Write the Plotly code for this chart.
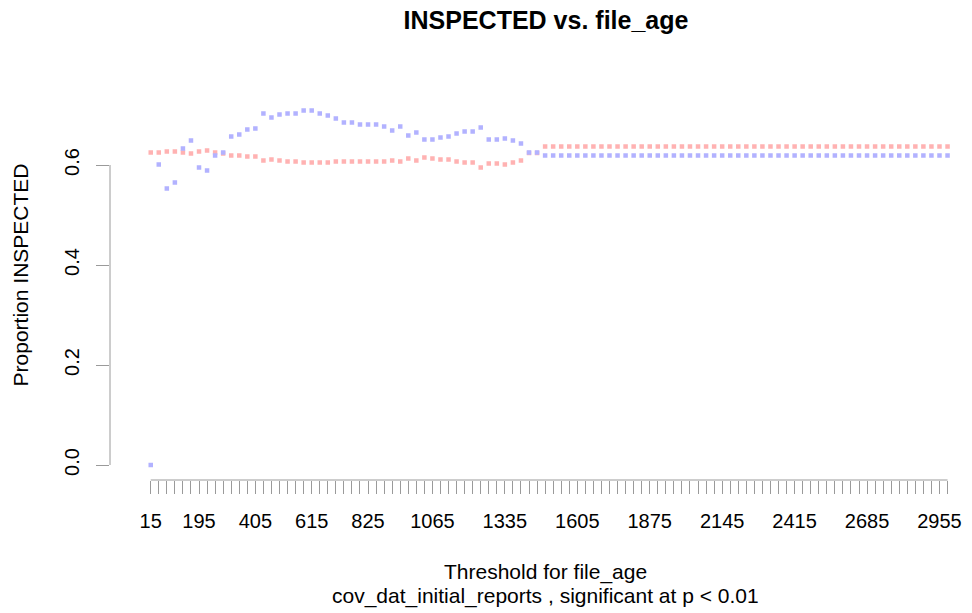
import plotly.graph_objects as go

# thresholds tried for file_age (x categories)
thresholds = [
    15, 45, 75, 105, 135, 165, 195, 225, 255, 285,
    315, 345, 375, 405, 435, 465, 495, 525, 555, 585,
    615, 645, 675, 705, 735, 765, 795, 825, 855, 885,
    915, 945, 975, 1005, 1035, 1065, 1095, 1125, 1155, 1185,
    1215, 1245, 1275, 1305, 1335, 1365, 1395, 1425, 1455, 1485,
    1515, 1545, 1575, 1605, 1635, 1665, 1695, 1725, 1755, 1785,
    1815, 1845, 1875, 1905, 1935, 1965, 1995, 2025, 2055, 2085,
    2115, 2145, 2175, 2205, 2235, 2265, 2295, 2325, 2355, 2385,
    2415, 2445, 2475, 2505, 2535, 2565, 2595, 2625, 2655, 2685,
    2715, 2745, 2775, 2805, 2835, 2865, 2895, 2925, 2955, 2985,
]
shown_labels = [15, 195, 405, 615, 825, 1065, 1335, 1605, 1875, 2145, 2415, 2685, 2955]

# proportion INSPECTED, above threshold (red) / below threshold (blue)
prop_red = [
    0.625, 0.625, 0.627, 0.627, 0.625, 0.623, 0.627, 0.629, 0.625, 0.623,
    0.619, 0.619, 0.617, 0.617, 0.609, 0.611, 0.609, 0.607, 0.607, 0.605,
    0.605, 0.605, 0.605, 0.607, 0.607, 0.607, 0.607, 0.607, 0.607, 0.607,
    0.609, 0.607, 0.613, 0.609, 0.615, 0.613, 0.611, 0.611, 0.607, 0.605,
    0.605, 0.595, 0.603, 0.603, 0.601, 0.605, 0.609, 0.624, 0.624, 0.637,
    0.637, 0.637, 0.637, 0.637, 0.637, 0.637, 0.637, 0.637, 0.637, 0.637,
    0.637, 0.637, 0.637, 0.637, 0.637, 0.637, 0.637, 0.637, 0.637, 0.637,
    0.637, 0.637, 0.637, 0.637, 0.637, 0.637, 0.637, 0.637, 0.637, 0.637,
    0.637, 0.637, 0.637, 0.637, 0.637, 0.637, 0.637, 0.637, 0.637, 0.637,
    0.637, 0.637, 0.637, 0.637, 0.637, 0.637, 0.637, 0.637, 0.637, 0.637,
]
prop_blue = [
    0.000, 0.601, 0.553, 0.565, 0.633, 0.649, 0.595, 0.589, 0.619, 0.625,
    0.657, 0.661, 0.671, 0.673, 0.703, 0.695, 0.701, 0.703, 0.703, 0.709,
    0.709, 0.703, 0.699, 0.693, 0.685, 0.685, 0.681, 0.681, 0.681, 0.677,
    0.669, 0.677, 0.659, 0.665, 0.651, 0.651, 0.655, 0.657, 0.663, 0.667,
    0.667, 0.675, 0.651, 0.651, 0.653, 0.649, 0.643, 0.625, 0.625, 0.619,
    0.619, 0.619, 0.619, 0.619, 0.619, 0.619, 0.619, 0.619, 0.619, 0.619,
    0.619, 0.619, 0.619, 0.619, 0.619, 0.619, 0.619, 0.619, 0.619, 0.619,
    0.619, 0.619, 0.619, 0.619, 0.619, 0.619, 0.619, 0.619, 0.619, 0.619,
    0.619, 0.619, 0.619, 0.619, 0.619, 0.619, 0.619, 0.619, 0.619, 0.619,
    0.619, 0.619, 0.619, 0.619, 0.619, 0.619, 0.619, 0.619, 0.619, 0.619,
]
y_ticks = [0.0, 0.2, 0.4, 0.6]

RED = "#FFB2B2"
BLUE = "#B2B2FF"
AXIS = "#9A9A9A"
FONT = "Liberation Sans, Arial, sans-serif"

fig = go.Figure()
fig.add_trace(go.Scatter(x=thresholds, y=prop_red, mode="markers",
                         marker={"symbol": "square", "size": 4.5, "color": RED, "line": {"width": 0}}))
fig.add_trace(go.Scatter(x=thresholds, y=prop_blue, mode="markers",
                         marker={"symbol": "square", "size": 4.5, "color": BLUE, "line": {"width": 0}}))

# R-style axis lines spanning only the tick range
fig.add_shape(type="line", xref="x", yref="paper", x0=thresholds[0], x1=thresholds[-1], y0=0, y1=0,
              line={"color": AXIS, "width": 1})
fig.add_shape(type="line", xref="paper", yref="y", x0=0, x1=0, y0=y_ticks[0], y1=y_ticks[-1],
              line={"color": AXIS, "width": 1})

step = thresholds[1] - thresholds[0]
fig.update_layout(
    width=972, height=613,
    margin={"l": 110, "r": 10, "t": 90, "b": 133},
    plot_bgcolor="white", paper_bgcolor="white",
    showlegend=False,
    font={"family": FONT, "size": 20, "color": "black"},
    title={"text": "<b>INSPECTED vs. file_age</b>", "font": {"size": 25},
           "xref": "container", "yref": "container", "x": 546 / 972, "xanchor": "center",
           "y": 1 - 20 / 613, "yanchor": "middle"},
    xaxis={
        "range": [thresholds[0] - 5.06 * step, thresholds[0] + 100.3 * step],
        "showgrid": False, "zeroline": False, "showline": False,
        "tickmode": "array", "tickvals": thresholds,
        "ticktext": [str(t) if t in shown_labels else "" for t in thresholds],
        "ticks": "outside", "ticklen": 13, "tickcolor": AXIS, "tickwidth": 1,
        "ticklabelstandoff": 10,
    },
    yaxis={
        "range": [-0.03, 0.75],
        "showgrid": False, "zeroline": False, "showline": False,
        "tickmode": "array", "tickvals": y_ticks, "ticktext": [f"{v:.1f}" for v in y_ticks],
        "ticks": "outside", "ticklen": 13, "tickcolor": AXIS, "tickwidth": 1,
        "tickangle": -90, "ticklabelstandoff": 9,
    },
    annotations=[
        {"text": "Threshold for file_age", "xref": "paper", "yref": "paper",
         "x": 0.513, "y": (480 - 572) / 390, "xanchor": "center", "yanchor": "middle",
         "showarrow": False, "font": {"size": 21}},
        {"text": "cov_dat_initial_reports , significant at p < 0.01", "xref": "paper", "yref": "paper",
         "x": 0.513, "y": (480 - 596) / 390, "xanchor": "center", "yanchor": "middle",
         "showarrow": False, "font": {"size": 21}},
        {"text": "Proportion INSPECTED", "xref": "paper", "yref": "paper",
         "x": (20 - 110) / 852, "y": (480 - 275) / 390, "xanchor": "center", "yanchor": "middle",
         "textangle": -90, "showarrow": False, "font": {"size": 21}},
    ],
)

fig.write_html("out.html", config={"displayModeBar": False},
               post_script="document.body.style.margin='0';")
